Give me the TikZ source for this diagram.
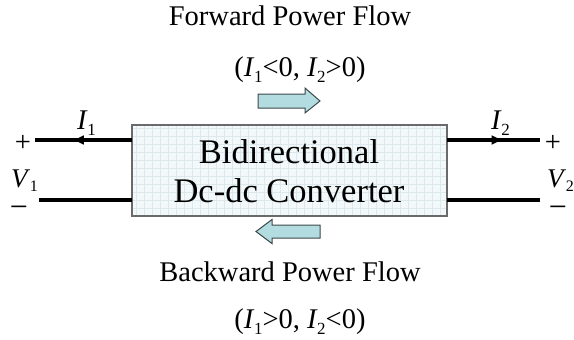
\documentclass[tikz,border=0pt]{standalone}
\usepackage{fontspec}
\setmainfont{Liberation Serif}
\usetikzlibrary{decorations.markings,arrows.meta}
\definecolor{boxfill}{HTML}{F3F9FA}
\definecolor{gridc}{HTML}{DCE8EB}
\definecolor{boxline}{HTML}{6A6A6A}
\definecolor{arrfill}{HTML}{B3DCE0}
\definecolor{arrline}{HTML}{3C4848}
\newcommand\Sb[2]{\textit{#1}\kern-0.5pt\raisebox{-0.5ex}{\fontsize{17}{17}\selectfont #2}}
\newcommand\Sv[2]{\textit{#1}\kern-0.5pt\raisebox{-0.35ex}{\fontsize{16}{16}\selectfont #2}}
\tikzset{
  lbl/.style={inner sep=0pt, anchor=base, font=\fontsize{28.5}{28.5}\selectfont},
  vlbl/.style={inner sep=0pt, anchor=base west, font=\fontsize{27}{27}\selectfont},
  big/.style={inner sep=0pt, anchor=base, font=\fontsize{34.5}{34.5}\selectfont},
  wire/.style={line width=3.4pt},
  flow/.style={fill=arrfill, draw=arrline, line width=1pt, line join=miter},
  midleft/.style={postaction={decorate}, decoration={markings, mark=at position #1 with {\arrow{Latex[length=12pt,width=10pt]}}}},
}
\begin{document}
\begin{tikzpicture}[x=1pt,y=-1pt]
\useasboundingbox (0,0) rectangle (574,340);
% box
\fill[boxfill] (132,125) rectangle (447,216);
\draw[gridc, line width=0.4pt, step=8pt] (132,125) grid (447,216);
\draw[boxline, line width=1.8pt] (132,125) rectangle (447,216);
\node[big] (t1) at (289,163) {Bidirectional};
\node[big] (t2) at (289,202) {Dc-dc Converter};
% terminals
\coordinate (BL1) at (132,140);
\coordinate (BL2) at (132,200);
\coordinate (BR1) at (447,140);
\coordinate (BR2) at (447,200);
\coordinate (L1) at (35,140);
\coordinate (L2) at (39,200);
\coordinate (R1) at (540,140);
\coordinate (R2) at (540,200);
\draw[wire, midleft=0.62] (BL1) -- (L1);
\draw[wire] (BL2) -- (L2);
\draw[wire, midleft=0.61] (BR1) -- (R1);
\draw[wire] (BR2) -- (R2);
% terminal labels
\node[lbl] (p1) at (23,151) {+};
\node[lbl] (m1) at (19,217) {\fontsize{32}{32}\selectfont −};
\node[vlbl] (v1) at (11,187) {\Sv{V}{1}};
\node[lbl] (p2) at (553,151) {+};
\node[lbl] (m2) at (558,217) {\fontsize{32}{32}\selectfont −};
\node[vlbl] (v2) at (547,187) {\Sv{V}{2}};
\node[lbl, anchor=base west] (i1) at (77,129) {\Sb{I}{1}};
\node[lbl, anchor=base west] (i2) at (491,129) {\Sb{I}{2}};
% flow labels
\node[lbl] (fw) at (290,26) {Forward Power Flow};
\node[lbl] (fwc) at (300,76) {(\Sb{I}{1}<0, \Sb{I}{2}>0)};
\node[lbl] (bw) at (290,281) {Backward Power Flow};
\node[lbl] (bwc) at (300,328) {(\Sb{I}{1}>0, \Sb{I}{2}<0)};
% flow arrows
\draw[flow] (258,94) -- (305,94) -- (305,88) -- (320,101) -- (305,113) -- (305,108) -- (258,108) -- cycle;
\draw[flow] (320,225) -- (272,225) -- (272,219.5) -- (256,231.5) -- (272,243.5) -- (272,238) -- (320,238) -- cycle;
\end{tikzpicture}
\end{document}
